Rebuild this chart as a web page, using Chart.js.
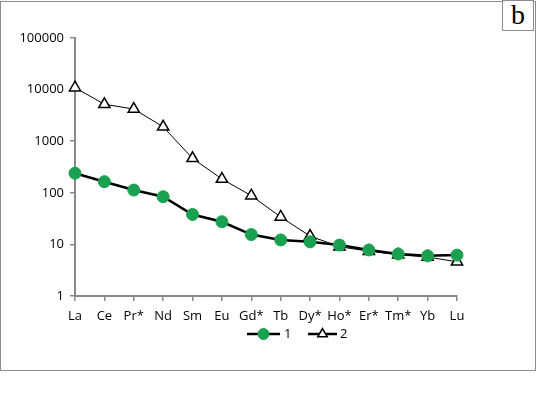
<!DOCTYPE html>
<html>
<head>
<meta charset="utf-8">
<script src="https://cdn.jsdelivr.net/npm/chart.js@4.4.1/dist/chart.umd.min.js"></script>
<style>
  html, body { margin:0; padding:0; background:#fff; }
  #wrap { position:relative; width:536px; height:397px; }
  #frame { position:absolute; left:0; top:1px; width:534px; height:368px; border:1px solid #8c8c8c; }
  #tag { position:absolute; left:502px; top:0; width:30px; height:29px; border:1px solid #8c8c8c; background:#fff;
         font:28px "Liberation Serif", serif; text-align:center; line-height:28px; }
  canvas { position:absolute; left:0; top:0; }
</style>
</head>
<body>
<div id="wrap">
  <div id="frame"></div>
  <canvas id="c" width="536" height="397"></canvas>
  <div id="tag">b</div>
</div>
<script>
// REE patterns, log scale
const elements = ['La','Ce','Pr*','Nd','Sm','Eu','Gd*','Tb','Dy*','Ho*','Er*','Tm*','Yb','Lu'];
const series1  = [240, 164, 113, 84, 38, 27.5, 15.5, 12.2, 11.2, 9.7, 7.8, 6.5, 6.0, 6.2];
const series2  = [10900, 5200, 4200, 1900, 465, 185, 88, 34, 14.5, 9.0, 7.4, 6.3, 5.7, 4.6];
const yTicks   = [1, 10, 100, 1000, 10000, 100000];
const names    = ['1', '2'];

const GREEN = '#1aa14f';
const AXIS  = '#898989';
const FONT  = '"Open Sans", sans-serif';

// legend drawn as line + marker, like the original
const lineLegend = {
  id: 'lineLegend',
  afterDraw(chart) {
    const ctx = chart.ctx, y = 334;
    const items = [{x0:247, x1:280, tx:284}, {x0:308, x1:337, tx:340}];
    ctx.save();
    items.forEach(function(it, i) {
      const ds = chart.data.datasets[i];
      ctx.strokeStyle = '#000'; ctx.lineWidth = 2.5;
      ctx.beginPath(); ctx.moveTo(it.x0, y); ctx.lineTo(it.x1, y); ctx.stroke();
      ctx.fillStyle = ds.pointBackgroundColor; ctx.strokeStyle = ds.pointBorderColor; ctx.lineWidth = ds.pointBorderWidth;
      Chart.helpers.drawPoint(ctx, {pointStyle: ds.pointStyle, radius: 5.5, rotation: 0, borderWidth: ds.pointBorderWidth},
        (it.x0+it.x1)/2, y);
      ctx.fillStyle = '#000'; ctx.font = '13px ' + FONT; ctx.textBaseline = 'middle';
      ctx.fillText(names[i], it.tx, y);
    });
    ctx.restore();
  }
};

new Chart(document.getElementById('c'), {
  type: 'line',
  data: {
    labels: elements,
    datasets: [
      { label: names[0], data: series1, borderColor: '#000', borderWidth: 2.5,
        pointStyle: 'circle', pointRadius: 6, pointBackgroundColor: GREEN, pointBorderColor: GREEN, pointBorderWidth: 1 },
      { label: names[1], data: series2, borderColor: '#000', borderWidth: 1,
        pointStyle: 'triangle', pointRadius: 6.5, pointBackgroundColor: '#fff', pointBorderColor: '#000', pointBorderWidth: 1.5 }
    ]
  },
  options: {
    responsive: false,
    animation: false,
    layout: { padding: { top: 38, right: 79, bottom: 71, left: 0 } },
    plugins: { legend: { display: false }, tooltip: { enabled: false } },
    scales: {
      x: {
        offset: false,
        border: { color: AXIS, width: 2 },
        grid: { drawOnChartArea: false, color: AXIS, tickLength: 5, lineWidth: 1.5 },
        ticks: { color: '#000', font: { family: FONT, size: 13 }, padding: 7, maxRotation: 0, autoSkip: false },
        afterFit(s) { s.height = 30; }
      },
      y: {
        type: 'logarithmic',
        min: 1, max: 100000,
        border: { color: AXIS, width: 2 },
        grid: { drawOnChartArea: false, color: AXIS, tickLength: 5, lineWidth: 1.5 },
        afterBuildTicks(s) { s.ticks = yTicks.map(function(v){ return {value: v}; }); },
        ticks: { color: '#000', font: { family: FONT, size: 13 }, padding: 6,
                 callback: function(v) { return String(v); } },
        afterFit(s) { s.width = 75; }
      }
    }
  },
  plugins: [lineLegend]
});
</script>
</body>
</html>
